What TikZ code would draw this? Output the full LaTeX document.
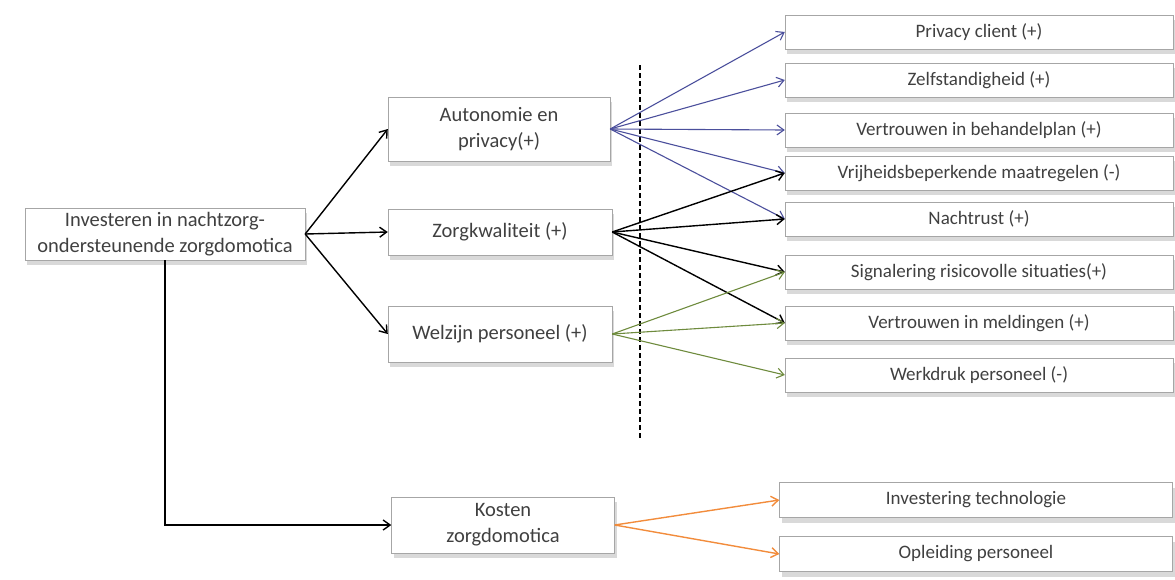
\documentclass[tikz,border=0pt]{standalone}
\usepackage{fontspec}
\setmainfont{Carlito}
\usetikzlibrary{arrows.meta,shadows}

\definecolor{txtgray}{HTML}{404040}
\definecolor{boxgray}{HTML}{A6A6A6}
\definecolor{arrblue}{HTML}{4B4F9C}
\definecolor{arrgreen}{HTML}{6E8B3D}
\definecolor{arrorange}{HTML}{F28C3C}

\tikzset{
  factor/.style={draw=boxgray, fill=white, text=txtgray, align=center, inner sep=0pt,
    font=\fontsize{20.5}{26}\selectfont,
    drop shadow={shadow xshift=2pt, shadow yshift=-5pt, opacity=0.3}},
  effect/.style={factor, font=\fontsize{19}{22}\selectfont, minimum width=388pt, minimum height=34pt},
  link/.style={-{Straight Barb[length=7pt,width=10pt]}, line width=1.4pt},
}

\begin{document}
\begin{tikzpicture}[x=1pt,y=-1pt]
\useasboundingbox (0,0) rectangle (1175,579);

% left part
\node[factor, minimum width=280pt, minimum height=52pt] (invest) at (165,234) {Investeren in nachtzorg-\\ondersteunende zorgdomotica};
\node[factor, minimum width=222pt, minimum height=64pt] (auto) at (499,129) {Autonomie en\\privacy(+)};
\node[factor, minimum width=224pt, minimum height=46pt] (zorg) at (500,232) {Zorgkwaliteit (+)};
\node[factor, minimum width=224pt, minimum height=56pt] (welzijn) at (500,334) {Welzijn personeel (+)};
\node[factor, minimum width=223pt, minimum height=56pt] (kosten) at (503,525) {Kosten\\zorgdomotica};

% effects
\node[effect] (privacy) at (979,32) {Privacy client (+)};
\node[effect] (zelf) at (979,80) {Zelfstandigheid (+)};
\node[effect] (behandel) at (979,130) {Vertrouwen in behandelplan (+)};
\node[effect] (vrijheid) at (979,173) {Vrijheidsbeperkende maatregelen (-)};
\node[effect] (nachtrust) at (979,219) {Nachtrust (+)};
\node[effect] (signal) at (979,272) {Signalering risicovolle situaties(+)};
\node[effect] (meldingen) at (979,323) {Vertrouwen in meldingen (+)};
\node[effect] (werkdruk) at (979,375) {Werkdruk personeel (-)};
\node[effect, minimum width=393pt, minimum height=35pt] (techniek) at (976,500) {Investering technologie};
\node[effect, minimum width=393pt, minimum height=35pt] (opleiding) at (976,554) {Opleiding personeel};

% dashed divider
\coordinate (dtop) at (640,65);
\coordinate (dbot) at (640,438);
\draw[line width=1.5pt, dash pattern=on 5pt off 3pt] (dtop) -- (dbot);

% main arrows
\draw[link] (invest.east) -- (auto.west);
\draw[link] (invest.east) -- (zorg.west);
\draw[link] (invest.east) -- (welzijn.west);
\draw[link] (invest.south) |- (kosten.west);

\foreach \t in {privacy,zelf,behandel,vrijheid,nachtrust}
  \draw[link, arrblue, line width=1.1pt] (auto.east) -- (\t.west);
\foreach \t in {vrijheid,nachtrust,signal,meldingen}
  \draw[link] (zorg.east) -- (\t.west);
\foreach \t in {signal,meldingen,werkdruk}
  \draw[link, arrgreen, line width=1.1pt] (welzijn.east) -- (\t.west);
\foreach \t in {techniek,opleiding}
  \draw[link, arrorange] (kosten.east) -- (\t.west);
\end{tikzpicture}
\end{document}
